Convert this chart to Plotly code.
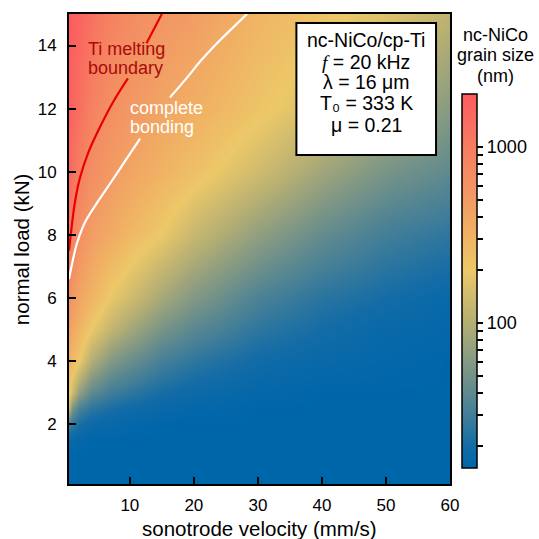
import numpy as np
import plotly.graph_objects as go

# ---------------- data ----------------
velocity = [0.5, 1, 2, 4, 7, 10, 15, 20, 30, 40, 50, 60]          # mm/s (grid columns)
load = [0.1, 1, 1.5, 2, 2.5, 3, 4, 5, 6, 8, 10, 12, 15]            # kN (grid rows)

# grain size (nm) per velocity column, bottom (low load) to top (high load)
grain_v0_5 = [15, 15, 18, 30, 120, 220, 310, 470, 650, 1100, 1550, 1800, 2000]
grain_v1 = [15, 15, 17, 26, 55, 140, 270, 390, 540, 870, 1300, 1650, 1900]
grain_v2 = [15, 15, 16, 21, 33, 68, 200, 300, 410, 650, 970, 1320, 1700]
grain_v4 = [15, 15, 15, 18, 25, 40, 100, 200, 300, 480, 680, 910, 1300]
grain_v7 = [15, 15, 15, 17, 21, 29, 58, 120, 190, 360, 510, 640, 900]
grain_v10 = [15, 15, 15, 16, 19, 25, 45, 85, 140, 275, 410, 540, 720]
grain_v15 = [15, 15, 15, 15, 17, 20, 31, 52, 85, 195, 305, 410, 560]
grain_v20 = [15, 15, 15, 15, 16, 18, 25, 38, 58, 125, 235, 330, 480]
grain_v30 = [15, 15, 15, 15, 15, 16, 19, 25, 33, 68, 140, 220, 295]
grain_v40 = [15, 15, 15, 15, 15, 15, 17, 20, 24, 42, 80, 150, 220]
grain_v50 = [15, 15, 15, 15, 15, 15, 16, 17, 20, 30, 52, 90, 170]
grain_v60 = [15, 15, 15, 15, 15, 15, 15, 16, 17, 25, 40, 62, 112]

# Ti melting boundary (two pieces, broken by the label)
melt_v = [0.5, 0.8, 1.4, 2.2, 3.5, 5.3, 7.5, 9.7, None, 12.6, 15.0]
melt_F = [7.5, 8.05, 9.0, 9.8, 10.6, 11.4, 12.25, 12.96, None, 14.07, 15.0]

# complete bonding boundary (two pieces, broken by the label)
bond_v = [0.5, 0.9, 1.7, 3.0, 5.0, 7.0, 9.3, 11.6, None, 16.25, 19, 21, 23.5, 26, 28.3]
bond_F = [6.6, 7.0, 7.7, 8.4, 9.05, 9.65, 10.35, 11.05, None, 12.35, 13.0, 13.5, 14.05, 14.55, 15.0]

cbar_ticks = [20, 30, 40, 50, 60, 70, 80, 90, 100, 200, 300, 400, 500, 600, 700, 800, 900, 1000]
cbar_labels = ["100", "1000"]
x_ticks = [10, 20, 30, 40, 50, 60]
y_ticks = [2, 4, 6, 8, 10, 12, 14]

d_min, d_max = 15, 2000

# ---------------- build figure ----------------
columns = [grain_v0_5, grain_v1, grain_v2, grain_v4, grain_v7, grain_v10, grain_v15,
           grain_v20, grain_v30, grain_v40, grain_v50, grain_v60]
Z = np.log10(np.array(columns, dtype=float).T)  # rows = load, cols = velocity

lo, hi = np.log10(d_min), np.log10(d_max)
def frac(d):
    return float((np.log10(d) - lo) / (hi - lo))

colorscale = [
    [0.0, "rgb(0,102,170)"],
    [frac(20), "rgb(20,108,166)"],
    [frac(30), "rgb(66,126,152)"],
    [frac(50), "rgb(116,146,136)"],
    [frac(100), "rgb(180,174,116)"],
    [frac(200), "rgb(236,200,104)"],
    [frac(300), "rgb(240,180,100)"],
    [frac(500), "rgb(242,155,100)"],
    [frac(1000), "rgb(246,125,97)"],
    [1.0, "rgb(252,92,95)"],
]

FONT = "Arial, 'Liberation Sans', sans-serif"
W, H = 539, 539
L, R, T, B = 69, 451, 14, 484
def xp(px):
    return (px - L) / (R - L)
def yp(py):
    return (B - py) / (B - T)

fig = go.Figure()
fig.add_trace(go.Heatmap(
    x=velocity, y=load, z=Z, zsmooth="best", zmin=lo, zmax=hi,
    colorscale=colorscale,
    colorbar=dict(
        tickvals=[float(np.log10(t)) for t in cbar_ticks],
        ticktext=[str(t) if str(t) in cbar_labels else " " for t in cbar_ticks],
        ticks="outside", ticklen=6, tickwidth=1.5, tickcolor="black",
        outlinecolor="black", outlinewidth=1.5,
        thickness=15, thicknessmode="pixels",
        len=374, lenmode="pixels",
        x=xp(462), xanchor="left", y=yp(94), yanchor="top",
        xpad=0, ypad=0,
        tickfont=dict(family=FONT, size=18, color="black"),
    ),
    hoverinfo="skip",
))

fig.add_trace(go.Scatter(x=melt_v, y=melt_F, mode="lines",
                         line=dict(color="rgb(235,0,0)", width=2.2, shape="spline", smoothing=1),
                         connectgaps=False, showlegend=False, hoverinfo="skip"))
fig.add_trace(go.Scatter(x=bond_v, y=bond_F, mode="lines",
                         line=dict(color="white", width=2.2, shape="spline", smoothing=1),
                         connectgaps=False, showlegend=False, hoverinfo="skip"))

axis_common = dict(showline=True, linecolor="black", linewidth=2, mirror=True,
                   ticks="inside", ticklen=7, tickwidth=2, tickcolor="black",
                   showgrid=False, zeroline=False,
                   tickfont=dict(family=FONT, size=17, color="black"))
fig.update_xaxes(range=[0.5, 60], tickvals=x_ticks, ticklabelstandoff=5, **axis_common)
fig.update_yaxes(range=[0.1, 15], tickvals=y_ticks, ticklabelstandoff=7, **axis_common)

ann = []
def txt(text, x, y, size, color="black", xanchor="center", angle=0):
    ann.append(dict(text=text, x=x, y=y, xref="paper", yref="paper", showarrow=False,
                    xanchor=xanchor, yanchor="middle", textangle=angle,
                    font=dict(family=FONT, size=size, color=color)))

# axis titles
txt("sonotrode velocity (mm/s)", 0.5, yp(528), 20.5)
txt("normal load (kN)", xp(21), 0.5, 20.5, angle=-90)
# curve labels
txt("Ti melting", xp(86), yp(49), 18, color="rgb(170,10,10)", xanchor="left")
txt("boundary", xp(86), yp(68), 18, color="rgb(170,10,10)", xanchor="left")
txt("complete", xp(128), yp(108), 18, color="white", xanchor="left")
txt("bonding", xp(128), yp(127), 18, color="white", xanchor="left")
# parameter box
bx = xp(367)
txt("nc-NiCo/cp-Ti", bx, yp(40), 19.5)
txt("<span style=\"font-family:'Liberation Serif',serif\"><i>f</i></span> = 20 kHz", bx, yp(61.5), 19.5)
txt("λ = 16 μm", bx, yp(82), 19.5)
txt("T₀ = 333 K", bx, yp(103.3), 19.5)
txt("μ = 0.21", bx, yp(125), 19.5)
# colorbar title
cx = xp(497)
txt("nc-NiCo", cx, yp(35), 18)
txt("grain size", cx, yp(55), 18)
txt("(nm)", cx, yp(76), 18)

fig.add_shape(type="rect", xref="paper", yref="paper",
              x0=xp(297), x1=xp(437), y0=yp(155), y1=yp(23),
              line=dict(color="black", width=2), fillcolor="white", layer="above")

fig.update_layout(
    width=W, height=H, autosize=False,
    margin=dict(l=L, r=W - R, t=T, b=H - B, pad=0),
    paper_bgcolor="white", plot_bgcolor="white",
    annotations=ann, showlegend=False,
    font=dict(family=FONT, color="black"),
)

fig.write_html("out.html")
